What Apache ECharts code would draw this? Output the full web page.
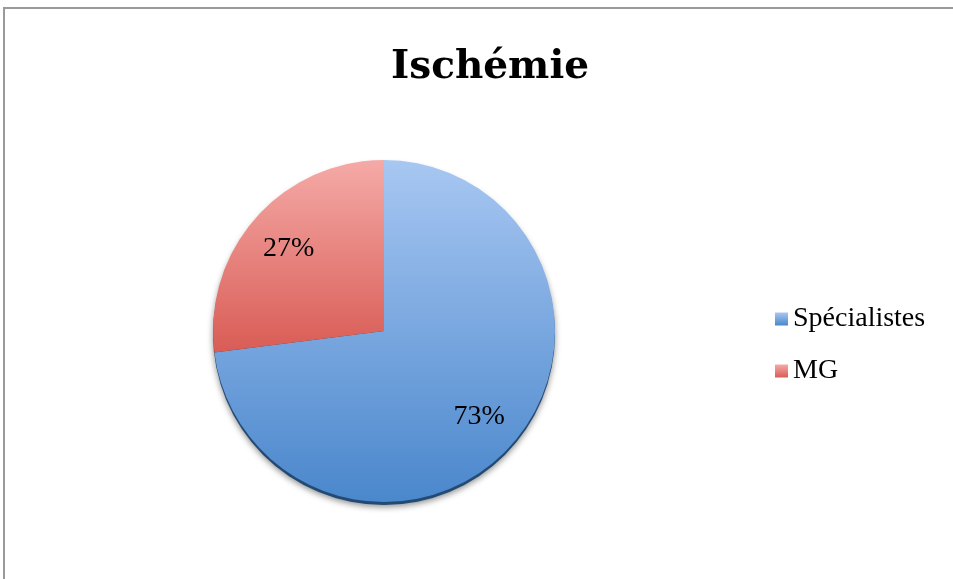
<!DOCTYPE html>
<html>
<head>
<meta charset="utf-8">
<script src="https://cdn.jsdelivr.net/npm/echarts@6/dist/echarts.min.js"></script>
<style>
  html, body { margin: 0; padding: 0; background: #fff; }
  #frame {
    position: absolute; left: 3px; top: 7px; width: 980px; height: 600px;
    border: 2px solid #9a9a9a; box-sizing: border-box;
  }
  #chart { position: absolute; left: 0; top: 0; width: 953px; height: 579px; }
</style>
</head>
<body>
<div id="frame"></div>
<div id="chart"></div>
<script>
// données
var titleText = "Ischémie";
var categories = ["Spécialistes", "MG"];
var values = [73, 27];

var topColors = ["#a8c7f2", "#f5aaa7"];
var bottomColors = ["#4a87cc", "#d95c55"];

function grad(i) {
  return new echarts.graphic.LinearGradient(0, 0, 0, 1, [
    { offset: 0, color: topColors[i] },
    { offset: 1, color: bottomColors[i] }
  ]);
}

var pieData = categories.map(function (name, i) {
  return { name: name, value: values[i], itemStyle: { color: grad(i) } };
});

var labelData = categories.map(function (name, i) {
  return { name: name, value: values[i] };
});

var total = values.reduce(function (a, b) { return a + b; }, 0);

var chart = echarts.init(document.getElementById("chart"));
chart.setOption({
  animation: false,
  title: {
    text: titleText,
    left: 485,
    top: 43,
    textAlign: "center",
    textStyle: {
      fontFamily: "DejaVu Serif",
      fontWeight: "bold",
      fontSize: 39,
      color: "#000"
    }
  },
  legend: {
    orient: "vertical",
    left: 770,
    top: 300,
    itemWidth: 13,
    itemHeight: 13,
    itemGap: 24,
    icon: "rect",
    data: categories,
    textStyle: {
      fontFamily: "Liberation Serif",
      fontSize: 28,
      color: "#000"
    }
  },
  series: [
    {
      // bord sombre du disque (effet 3D)
      type: "pie",
      silent: true,
      center: [384, 334],
      radius: [0, 171],
      label: { show: false },
      labelLine: { show: false },
      itemStyle: {
        color: "#234a73",
        shadowColor: "rgba(0,0,0,0.45)",
        shadowBlur: 6,
        shadowOffsetY: 2
      },
      data: [{ name: "", value: total }],
      z: 1
    },
    {
      type: "pie",
      silent: true,
      center: [384, 331],
      radius: [0, 171],
      startAngle: 90,
      clockwise: true,
      label: { show: false },
      labelLine: { show: false },
      data: pieData,
      z: 2
    },
    {
      // étiquettes de pourcentage
      type: "pie",
      silent: true,
      center: [384, 333],
      radius: [76, 172],
      startAngle: 90,
      clockwise: true,
      itemStyle: { color: "rgba(0,0,0,0)" },
      label: {
        show: true,
        position: "inside",
        formatter: function (p) { return Math.round(p.percent) + "%"; },
        fontFamily: "Liberation Serif",
        fontSize: 28,
        color: "#000"
      },
      labelLine: { show: false },
      data: labelData,
      z: 3
    }
  ]
});
</script>
</body>
</html>
